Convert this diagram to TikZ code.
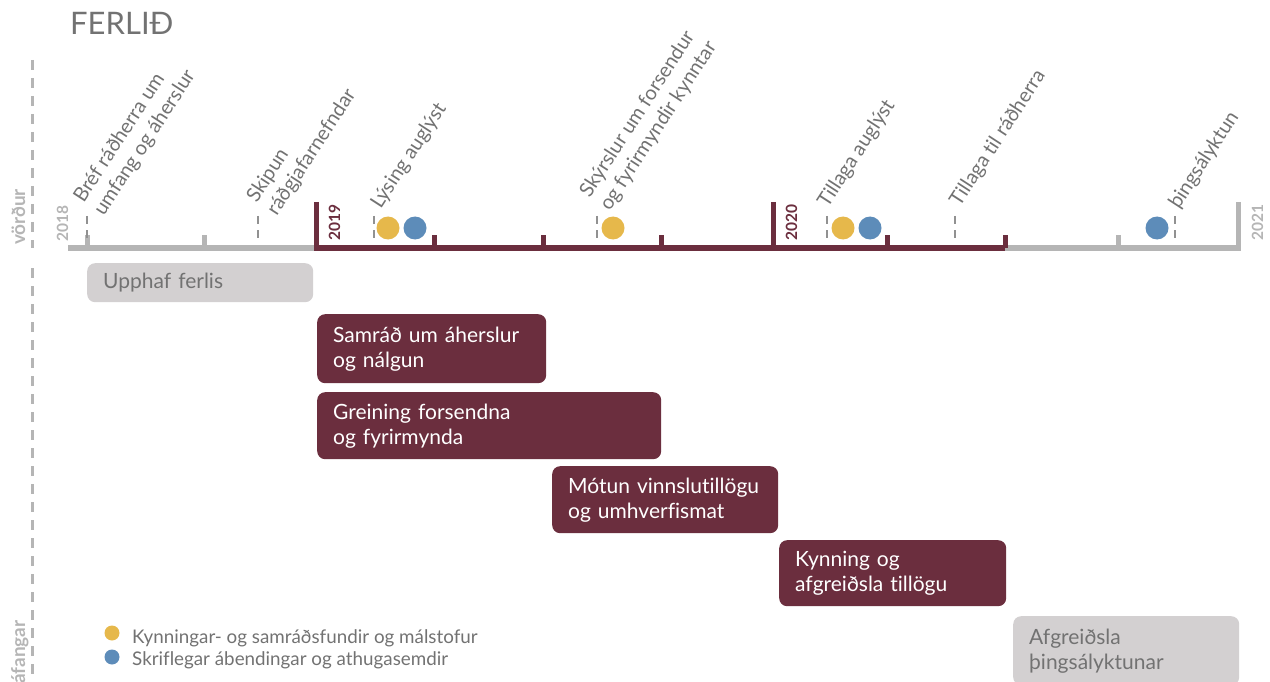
\documentclass[tikz,border=0pt]{standalone}
\usepackage{fontspec}
\setmainfont{Lato}[Ligatures=CommonOff]
\hyphenpenalty=10000
\exhyphenpenalty=10000
\definecolor{vinrautt}{HTML}{6B2E3E}
\definecolor{grar}{HTML}{B5B5B5}
\definecolor{ljosgrar}{HTML}{D3D0D1}
\definecolor{textagrar}{HTML}{727272}
\definecolor{gulur}{HTML}{E6B84B}
\definecolor{blar}{HTML}{5D8CB9}
\begin{document}
\begin{tikzpicture}[x=1pt,y=-1pt]
	% Set styles
	\tikzset{
		phase box/.style={anchor=north west, rounded corners=8pt, inner xsep=16pt, inner ysep=0pt, align=left, font=\fontsize{21}{25}\selectfont},
		red phase/.style={phase box, fill=vinrautt, text=white},
		gray phase/.style={phase box, fill=ljosgrar, text=textagrar},
		milestone/.style={anchor=south west, rotate=57, inner sep=0pt, align=left, text=textagrar, font=\fontsize{20}{24}\selectfont},
		year label/.style={anchor=base west, rotate=90, inner sep=0pt, font=\fontsize{15.5}{16}\selectfont\bfseries},
		side label/.style={anchor=base west, rotate=90, inner sep=0pt, text=grar, font=\fontsize{19}{20}\selectfont\bfseries},
		side line/.style={grar, line width=3pt, dash pattern=on 10pt off 8pt},
		marker/.style={grar!80!black, line width=2.5pt, dash pattern=on 8pt off 6pt},
		dot/.style={circle, inner sep=0pt, minimum size=23pt},
		legend dot/.style={circle, inner sep=0pt, minimum size=15pt},
		legend text/.style={anchor=base west, inner sep=0pt, text=textagrar, font=\fontsize{18.8}{22}\selectfont}
	}
	\useasboundingbox (0,0) rectangle (1270,682);
	
	% Title and side labels
	\node[anchor=base west, inner sep=0pt, text=textagrar, font=\fontsize{31}{33}\selectfont] (title) at (70,35) {FERLIÐ};
	\draw[side line] (32,60) -- (32,248);
	\draw[side line] (32,268) -- (32,682);
	\node[side label] (vordur) at (25,245) {vörður};
	\node[side label] (afangar) at (25,684) {áfangar};
	
	% Time axis
	\draw[grar, line width=6pt] (68,248) -- (316,248);
	\draw[grar, line width=6pt] (1005,248) -- (1240,248);
	\draw[vinrautt, line width=6pt] (316,248) -- (1005,248);
	\foreach \x in {87,204,1118}
		\draw[grar, line width=5pt] (\x,235) -- (\x,248);
	\foreach \x in {434,543,661,887,1005}
		\draw[vinrautt, line width=5pt] (\x,235) -- (\x,248);
	\foreach \x in {316,773}
		\draw[vinrautt, line width=5pt] (\x,202) -- (\x,251);
	\draw[grar, line width=5pt] (1238,202) -- (1238,251);
	
	% Years
	\node[year label, text=grar] (y2018) at (68,242) {2018};
	\node[year label, text=vinrautt] (y2019) at (340,241) {2019};
	\node[year label, text=vinrautt] (y2020) at (797,241) {2020};
	\node[year label, text=grar] (y2021) at (1263,241) {2021};
	
	% Milestones
	\foreach \x in {87,258,374,597,827,955,1175}
		\draw[marker] (\x,216) -- (\x,240);
	\node[milestone] (bref) at (107,219) {Bréf ráðherra um\\umfang og áherslur};
	\node[milestone] (skipun) at (280,219) {Skipun\\ráðgjafarnefndar};
	\node[milestone] (lysing) at (384,212) {Lýsing auglýst};
	\node[milestone] (skyrslur) at (613,214) {Skýrslur um forsendur\\og fyrirmyndir kynntar};
	\node[milestone] (tillaga) at (831,211) {Tillaga auglýst};
	\node[milestone] (radherra) at (963,210) {Tillaga til ráðherra};
	\node[milestone] (thing) at (1182,212) {þingsályktun};
	
	% Meetings and written comments
	\node[dot, fill=gulur] (fundur1) at (388,228) {};
	\node[dot, fill=blar] (abending1) at (415,228) {};
	\node[dot, fill=gulur] (fundur2) at (613,228) {};
	\node[dot, fill=gulur] (fundur3) at (843,228) {};
	\node[dot, fill=blar] (abending2) at (870,228) {};
	\node[dot, fill=blar] (abending3) at (1157,228) {};
	
	% Phases
	\node[gray phase, text width=194pt, minimum height=39pt] (upphaf) at (87,263) {Upphaf ferlis};
	\node[red phase, text width=197pt, minimum height=69pt] (samrad) at (317,314) {Samráð um áherslur\\og nálgun};
	\node[red phase, text width=312pt, minimum height=67pt] (greining) at (317,392) {Greining forsendna\\og fyrirmynda};
	\node[red phase, text width=194pt, minimum height=67pt] (motun) at (552,466) {Mótun vinnslutillögu\\og umhverfismat};
	\node[red phase, text width=195pt, minimum height=66pt] (kynning) at (779,540) {Kynning og\\afgreiðsla tillögu};
	\node[gray phase, text width=194pt, minimum height=69pt] (afgreidsla) at (1013,616) {Afgreiðsla\\þingsályktunar};
	
	% Legend
	\node[legend dot, fill=gulur] (legfundur) at (112,633) {};
	\node[legend dot, fill=blar] (legabending) at (112,657) {};
	\node[legend text] (legtext1) at (132,643) {Kynningar- og samráðsfundir og málstofur};
	\node[legend text] (legtext2) at (132,665) {Skriflegar ábendingar og athugasemdir};
\end{tikzpicture}
\end{document}
